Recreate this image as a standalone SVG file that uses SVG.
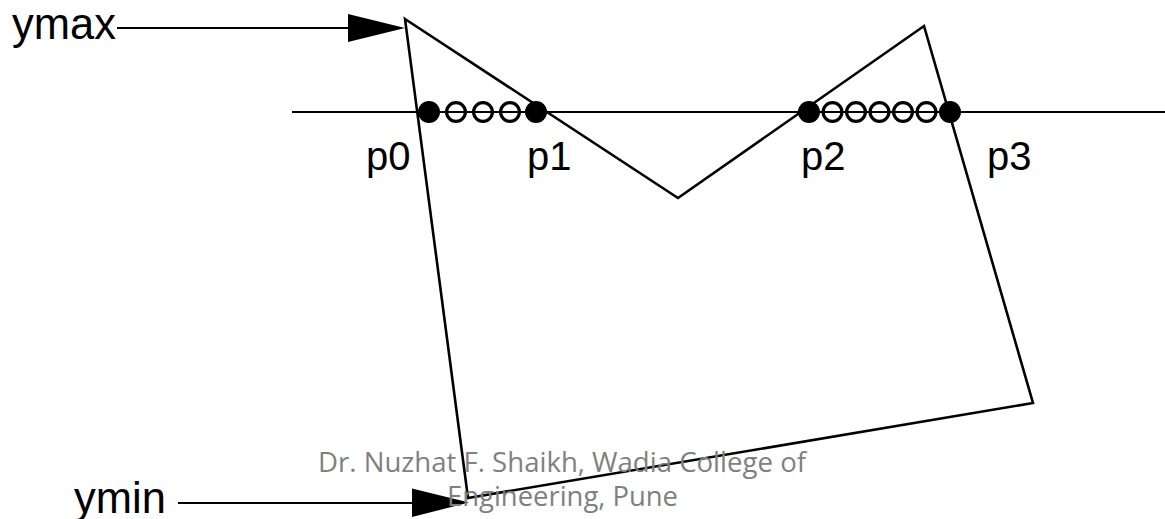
<svg xmlns="http://www.w3.org/2000/svg" width="1165" height="519" viewBox="0 0 1165 519">
<style>
.lbl{font-family:"Liberation Sans",Arial,sans-serif;fill:#000}
.big{font-size:43.5px}
.pl{font-size:40px}
.edge{fill:none;stroke:#000;stroke-width:2.6;stroke-linejoin:miter}
.line{stroke:#000;stroke-width:2.2}
.fill{fill:#000}
.open{fill:none;stroke:#000;stroke-width:3.2}
.wm{font-family:"Open Sans","Liberation Sans",sans-serif;font-size:28px;fill:#808080}
</style>
<rect width="1165" height="519" fill="#fff"/>
<g id="polygon">
<polygon class="edge" points="405,19 678,198 924,26 1033,403 468,498"/>
</g>
<g id="scanline">
<line class="line" x1="292" y1="112" x2="1165" y2="112"/>
</g>
<g id="points-left">
<circle class="open" cx="456" cy="112" r="9.4"/>
<circle class="open" cx="483" cy="112" r="9.4"/>
<circle class="open" cx="510" cy="112" r="9.4"/>
<circle class="fill" cx="429" cy="112" r="11"/>
<circle class="fill" cx="536" cy="112" r="11"/>
</g>
<g id="points-right">
<circle class="open" cx="832.5" cy="112" r="9.4"/>
<circle class="open" cx="856" cy="112" r="9.4"/>
<circle class="open" cx="879.5" cy="112" r="9.4"/>
<circle class="open" cx="903" cy="112" r="9.4"/>
<circle class="open" cx="926.5" cy="112" r="9.4"/>
<circle class="fill" cx="809" cy="112" r="11"/>
<circle class="fill" cx="950" cy="112" r="11"/>
</g>
<g id="connectors">
<line class="line" x1="117" y1="28" x2="350" y2="28"/>
<polygon class="fill" points="348,14 405,28 348,42"/>
<line class="line" x1="178" y1="503" x2="414" y2="503"/>
<polygon class="fill" points="412,488.5 469,502.5 412,517"/>
</g>
<g id="labels">
<text class="lbl big" x="12" y="39">ymax</text>
<text class="lbl big" x="74" y="513">ymin</text>
<text class="lbl pl" x="366" y="170">p0</text>
<text class="lbl pl" x="527" y="170">p1</text>
<text class="lbl pl" x="801" y="170">p2</text>
<text class="lbl pl" x="987" y="170">p3</text>
</g>
<g id="watermark">
<text class="wm" x="318" y="472" textLength="488" lengthAdjust="spacingAndGlyphs">Dr. Nuzhat F. Shaikh, Wadia College of</text>
<text class="wm" x="447" y="506" textLength="231" lengthAdjust="spacingAndGlyphs">Engineering, Pune</text>
</g>
</svg>
